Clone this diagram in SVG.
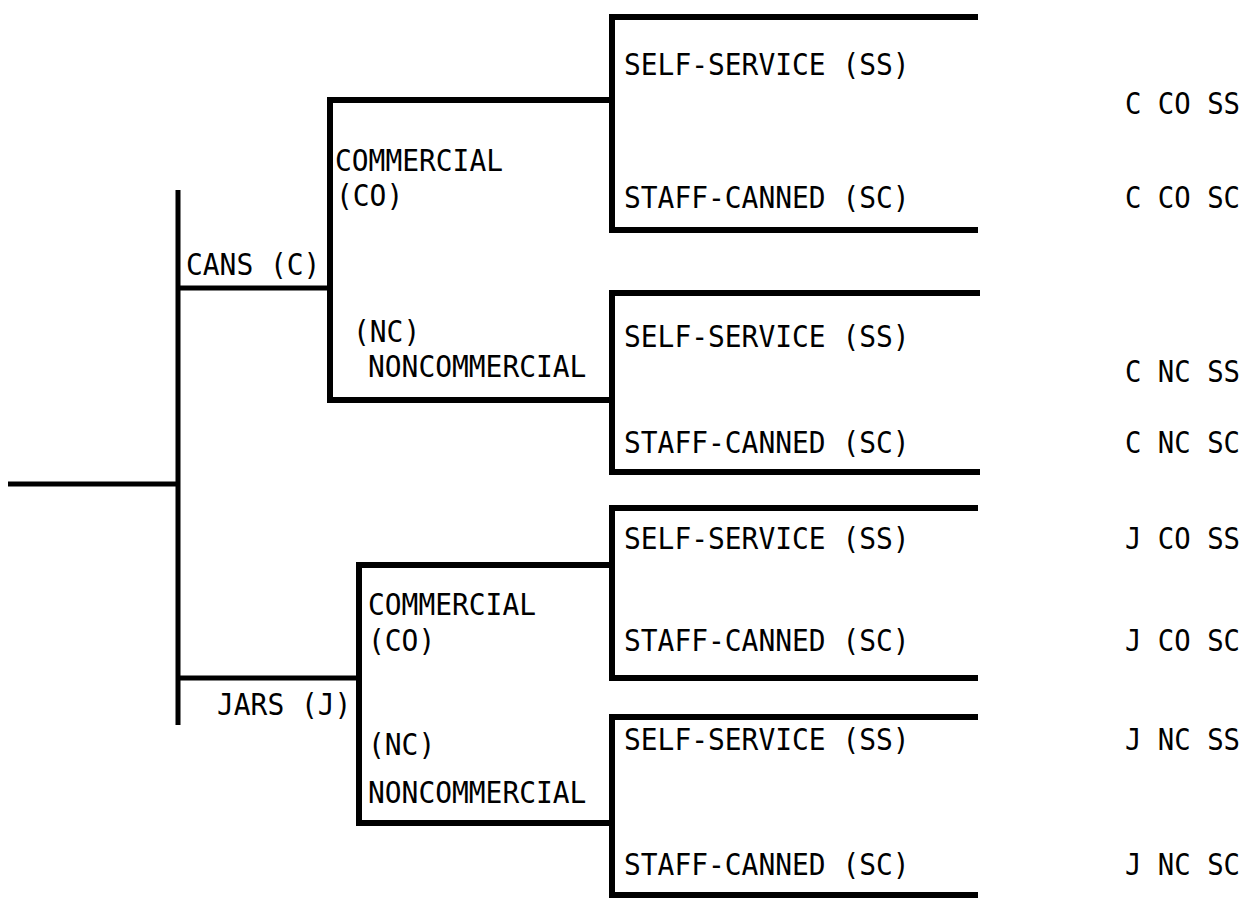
<svg xmlns="http://www.w3.org/2000/svg" width="1256" height="900" viewBox="0 0 1256 900">
<style>
.ln{fill:none;stroke:#000;stroke-width:6;stroke-linejoin:miter;stroke-linecap:square}
.tk{fill:none;stroke:#000;stroke-width:5;stroke-linecap:butt}
text{font-family:"DejaVu Sans Mono","Liberation Mono",monospace;font-size:31px;fill:#000}
</style>
<rect width="1256" height="900" fill="#fff"/>
<g id="connectors">
<path class="tk" d="M8 484 H178"/>
<path class="tk" d="M178 190 V725"/>
<path class="tk" d="M178 288 H330"/>
<path class="tk" d="M178 678 H359"/>
<path class="ln" d="M612 100 H330 V400 H612"/>
<path class="ln" d="M612 565 H359 V823 H612"/>
</g>
<g id="cans"><text x="186" y="275" textLength="134.4" lengthAdjust="spacingAndGlyphs">CANS (C)</text></g>
<g id="jars"><text x="217" y="715" textLength="134.4" lengthAdjust="spacingAndGlyphs">JARS (J)</text></g>
<g id="c-commercial">
<text x="335" y="171" textLength="168" lengthAdjust="spacingAndGlyphs">COMMERCIAL</text>
<text x="336" y="206" textLength="67.2" lengthAdjust="spacingAndGlyphs">(CO)</text>
</g>
<g id="c-noncommercial">
<text x="353" y="342" textLength="67.2" lengthAdjust="spacingAndGlyphs">(NC)</text>
<text x="368" y="377" textLength="218.4" lengthAdjust="spacingAndGlyphs">NONCOMMERCIAL</text>
</g>
<g id="j-commercial">
<text x="368" y="615" textLength="168" lengthAdjust="spacingAndGlyphs">COMMERCIAL</text>
<text x="368" y="651" textLength="67.2" lengthAdjust="spacingAndGlyphs">(CO)</text>
</g>
<g id="j-noncommercial">
<text x="368" y="755" textLength="67.2" lengthAdjust="spacingAndGlyphs">(NC)</text>
<text x="368" y="803" textLength="218.4" lengthAdjust="spacingAndGlyphs">NONCOMMERCIAL</text>
</g>
<g id="box-c-co">
<path class="ln" d="M975 17 H612 V230 H975"/>
<text x="624" y="75" textLength="285.6" lengthAdjust="spacingAndGlyphs">SELF-SERVICE (SS)</text>
<text x="624" y="208" textLength="285.6" lengthAdjust="spacingAndGlyphs">STAFF-CANNED (SC)</text>
</g>
<g id="box-c-nc">
<path class="ln" d="M977 293 H612 V472 H977"/>
<text x="624" y="347" textLength="285.6" lengthAdjust="spacingAndGlyphs">SELF-SERVICE (SS)</text>
<text x="624" y="453" textLength="285.6" lengthAdjust="spacingAndGlyphs">STAFF-CANNED (SC)</text>
</g>
<g id="box-j-co">
<path class="ln" d="M975 508 H612 V678 H975"/>
<text x="624" y="549" textLength="285.6" lengthAdjust="spacingAndGlyphs">SELF-SERVICE (SS)</text>
<text x="624" y="651" textLength="285.6" lengthAdjust="spacingAndGlyphs">STAFF-CANNED (SC)</text>
</g>
<g id="box-j-nc">
<path class="ln" d="M975 717 H612 V895 H975"/>
<text x="624" y="750" textLength="285.6" lengthAdjust="spacingAndGlyphs">SELF-SERVICE (SS)</text>
<text x="624" y="875" textLength="285.6" lengthAdjust="spacingAndGlyphs">STAFF-CANNED (SC)</text>
</g>
<g id="codes">
<text x="1125" y="114" textLength="115" lengthAdjust="spacingAndGlyphs">C CO SS</text>
<text x="1125" y="208" textLength="115" lengthAdjust="spacingAndGlyphs">C CO SC</text>
<text x="1125" y="382" textLength="115" lengthAdjust="spacingAndGlyphs">C NC SS</text>
<text x="1125" y="453" textLength="115" lengthAdjust="spacingAndGlyphs">C NC SC</text>
<text x="1125" y="549" textLength="115" lengthAdjust="spacingAndGlyphs">J CO SS</text>
<text x="1125" y="651" textLength="115" lengthAdjust="spacingAndGlyphs">J CO SC</text>
<text x="1125" y="750" textLength="115" lengthAdjust="spacingAndGlyphs">J NC SS</text>
<text x="1125" y="875" textLength="115" lengthAdjust="spacingAndGlyphs">J NC SC</text>
</g>
</svg>
